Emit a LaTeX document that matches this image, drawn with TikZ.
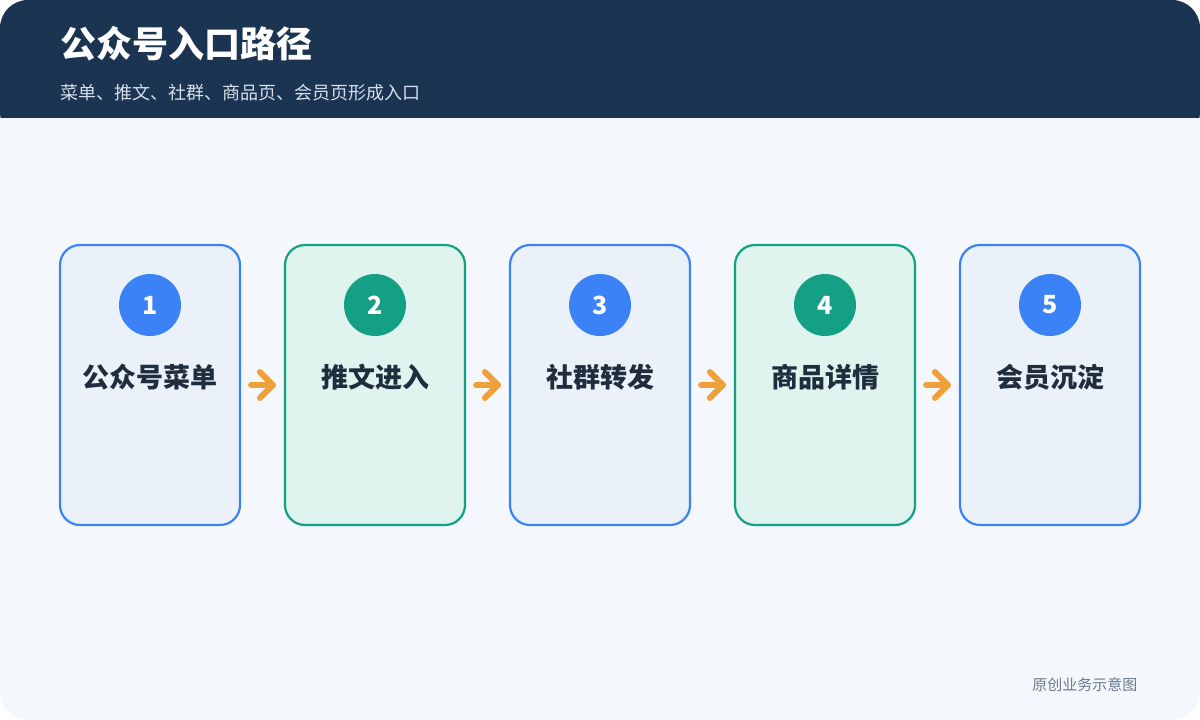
\documentclass[tikz,border=0pt]{standalone}
\usepackage{fontspec}
\setmainfont{Noto Sans CJK SC}
\usetikzlibrary{arrows.meta,calc}
\definecolor{navy}{HTML}{1A3452}
\definecolor{bg}{HTML}{F4F8FC}
\definecolor{bb}{HTML}{3B82F6}
\definecolor{bf}{HTML}{EAF1F8}
\definecolor{gb}{HTML}{14A085}
\definecolor{gf}{HTML}{DFF3EF}
\definecolor{txt}{HTML}{1F2D3D}
\definecolor{org}{HTML}{EEA13A}
\definecolor{sub}{HTML}{D5E0EC}
\definecolor{foot}{HTML}{6B7A8C}
\begin{document}
\begin{tikzpicture}[x=1pt,y=-1pt,
 box/.style={draw=#1,line width=2.2pt,rounded corners=20pt,minimum width=180pt,minimum height=280pt},
 num/.style={circle,fill=#1,minimum size=62pt,inner sep=0pt,text=white,font=\bfseries\fontsize{25}{28}\selectfont},
 lab/.style={text=txt,font=\bfseries\fontsize{27}{30}\selectfont},
 arr/.style={draw=org,line width=6pt,line cap=round,line join=round}]
\useasboundingbox (0,0) rectangle (1200,720);
\fill[bg,rounded corners=28pt] (0,0) rectangle (1200,720);
\fill[navy,rounded corners=28pt] (0,0) rectangle (1200,140);
\fill[bg] (0,118) rectangle (1200,150);
\node[anchor=west,text=white,font=\bfseries\fontsize{36}{40}\selectfont] (title) at (57,44) {公众号入口路径};
\node[anchor=west,text=sub,font=\fontsize{18}{22}\selectfont] (subt) at (57,93) {菜单、推文、社群、商品页、会员页形成入口};
\foreach \i/\x/\c/\t in {1/150/b/公众号菜单,2/375/g/推文进入,3/600/b/社群转发,4/825/g/商品详情,5/1050/b/会员沉淀}{
 \node[box=\c b,fill=\c f] (b\i) at (\x,385) {};
 \node[num=\c b] (n\i) at (\x,305) {\i};
 \node[lab] (l\i) at (\x,377) {\t};
}
\foreach \a/\b in {1/2,2/3,3/4,4/5}{
 \coordinate (s\a) at ($(b\a.east)+(10,0)$);
 \coordinate (e\a) at ($(b\b.west)+(-11,0)$);
 \draw[arr] (s\a) -- (e\a);
 \draw[arr] ($(e\a)+(-13,-13)$) -- (e\a) -- ($(e\a)+(-13,13)$);
}
\node[anchor=east,text=foot,font=\fontsize{15}{18}\selectfont] (ft) at (1141,685) {原创业务示意图};
\end{tikzpicture}
\end{document}
